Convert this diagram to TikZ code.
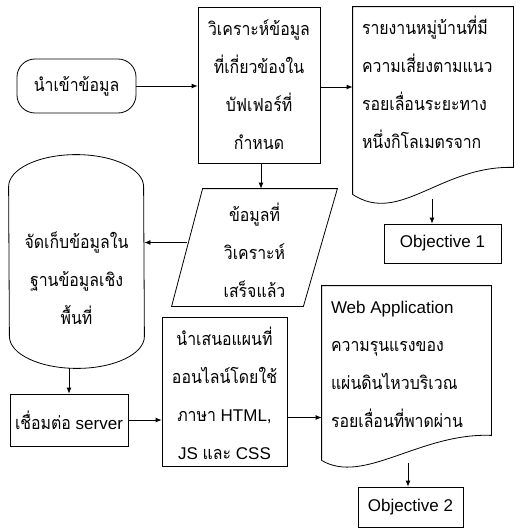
\documentclass[tikz,border=0pt]{standalone}
\usepackage{fontspec}
\setmainfont{Liberation Sans}
\newfontfamily\thaifont[Script=Thai, Scale=1.06, FakeStretch=0.88]{Loma}
\usetikzlibrary{arrows.meta, positioning}
\tikzset{
	fbox/.style={draw, align=center, inner sep=0pt, font=\fontsize{17}{38}\selectfont},
	fshape/.style={inner sep=0pt},
	ftext/.style={align=center, inner sep=0pt, font=\fontsize{17}{38}\selectfont},
	farr/.style={-{Latex[length=6pt, width=5pt]}, line width=0.8pt}
}

\begin{document}
\begin{tikzpicture}[x=1pt, y=-1pt, line width=0.8pt]
	\useasboundingbox (0,0) rectangle (515,530);
	% top row
	\node[fbox, rounded corners=18pt, minimum width=119pt, minimum height=54pt] (start) at (76.5,86) {\thaifont นำเข้าข้อมูล};
	\node[fbox, minimum width=122pt, minimum height=156pt] (p1) at (259,85) {\thaifont วิเคราะห์ข้อมูล\\\thaifont ที่เกี่ยวข้องใน\\\thaifont บัฟเฟอร์ที่\\\thaifont กำหนด};
	\node[fshape, minimum width=160pt, minimum height=187pt] (rep1) at (433,100.5) {};
	\node[ftext, align=left, anchor=north west] (rep1t) at ([shift={(9,9)}]rep1.north west) {\thaifont รายงานหมู่บ้านที่มี\\\thaifont ความเสี่ยงตามแนว\\\thaifont รอยเลื่อนระยะทาง\\\thaifont หนึ่งกิโลเมตรจาก};
	\draw (rep1.south west) -- (rep1.north west) -- (rep1.north east) -- ([shift={(0,-27)}]rep1.south east)
		.. controls +(-73,-2) and +(47,31) .. (rep1.south west);
	\coordinate (rep1b) at (432,199);
	\node[fbox, minimum width=117pt, minimum height=39pt] (obj1) at (442.5,243.5) {Objective 1};
	% middle
	\node[fshape, minimum width=165pt, minimum height=117pt] (ana) at (254.5,247.5) {};
	\node[ftext] (anat) at ([shift={(0,3)}]ana.center) {\thaifont ข้อมูลที่\\\thaifont วิเคราะห์\\\thaifont เสร็จแล้ว};
	\draw ([shift={(31,0)}]ana.north west) -- (ana.north east) -- ([shift={(-34,0)}]ana.south east) -- (ana.south west) -- cycle;
	\coordinate (anaL) at ([shift={(15,-5)}]ana.west);
	\node[fshape, minimum width=135pt, minimum height=213pt] (db) at (76.5,261.5) {};
	\node[ftext] (dbt) at ([shift={(0,17)}]db.center) {\thaifont จัดเก็บข้อมูลใน\\\thaifont ฐานข้อมูลเชิง\\\thaifont พื้นที่};
	\draw ([shift={(0,32)}]db.north west) arc (180:0:67.5pt and 32pt) -- ([shift={(0,-32)}]db.south east)
		arc (0:-180:67.5pt and 32pt) -- cycle;
	% bottom row
	\node[fbox, minimum width=118pt, minimum height=52pt] (srv) at (69,420) {{\thaifont เชื่อมต่อ} server};
	\node[fbox, minimum width=125pt, minimum height=149pt] (p2) at (224.5,391.5) {};
	\node[ftext] (p2t) at ([shift={(0,2)}]p2.center) {\thaifont นำเสนอแผนที่\\\thaifont ออนไลน์โดยใช้\\{\thaifont ภาษา} HTML,\\JS {\thaifont และ} CSS};
	\node[fshape, minimum width=169pt, minimum height=174pt] (rep2) at (406.5,373) {};
	\node[ftext, align=left, anchor=north west] (rep2t) at ([shift={(9,15)}]rep2.north west) {Web Application\\\thaifont ความรุนแรงของ\\\thaifont แผ่นดินไหวบริเวณ\\\thaifont รอยเลื่อนที่พาดผ่าน};
	\draw (rep2.south west) -- (rep2.north west) -- (rep2.north east) -- ([shift={(0,-25)}]rep2.south east)
		.. controls +(-71,-3) and +(42,25) .. (rep2.south west);
	\coordinate (rep2b) at (408,463);
	\node[fbox, minimum width=105pt, minimum height=40pt] (obj2) at (410.5,507) {Objective 2};
	% connectors
	\draw[farr] (start.east) -- (start.east -| p1.west);
	\draw[farr] ([shift={(0,2)}]p1.east) -- ([shift={(0,2)}]p1.east -| rep1.west);
	\draw[farr] (rep1b) -- (rep1b |- obj1.north);
	\draw[farr] ([shift={(2,0)}]p1.south) -- ([shift={(2,0)}]p1.south |- ana.north);
	\draw[farr] (anaL) -- (anaL -| db.east);
	\draw[farr] (db.south -| srv.north) -- (srv.north);
	\draw[farr] (srv.east) -- (srv.east -| p2.west);
	\draw[farr] ([shift={(0,26)}]p2.east) -- ([shift={(0,26)}]p2.east -| rep2.west);
	\draw[farr] (rep2b) -- (rep2b |- obj2.north);
\end{tikzpicture}
\end{document}
